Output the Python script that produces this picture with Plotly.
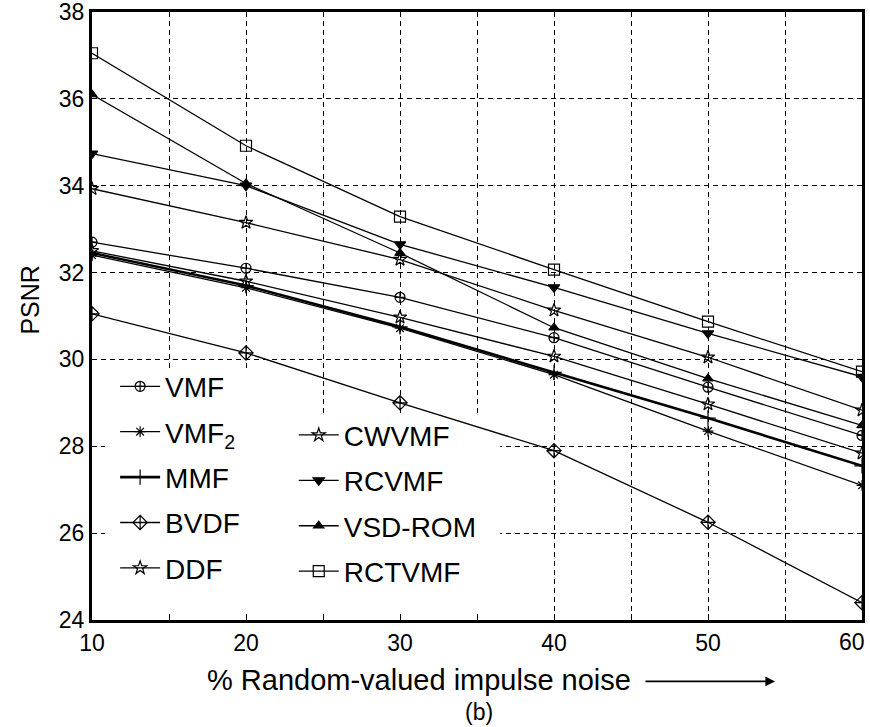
import plotly.graph_objects as go

noise = [10, 20, 30, 40, 50, 60]
VMF = [32.7, 32.1, 31.43, 30.5, 29.36, 28.25]
VMF2 = [32.4, 31.65, 30.72, 29.65, 28.35, 27.1]
MMF = [32.45, 31.7, 30.75, 29.7, 28.65, 27.55]
BVDF = [31.05, 30.15, 29.0, 27.9, 26.25, 24.4]
DDF = [32.5, 31.8, 30.97, 30.07, 28.97, 27.84]
CWVMF = [33.93, 33.15, 32.3, 31.13, 30.05, 28.83]
RCVMF = [34.74, 34.0, 32.65, 31.66, 30.6, 29.6]
VSDROM = [36.1, 34.05, 32.45, 30.73, 29.56, 28.48]
RCTVMF = [37.05, 34.92, 33.29, 32.07, 30.87, 29.72]

x_ticks = [10, 20, 30, 40, 50, 60]
# last label is drawn right-aligned at its tick so it stays inside the page
x_tick_labels = ["10", "20", "30", "40", "50", ""]
x_last_label = "60"
y_ticks = [24, 26, 28, 30, 32, 34, 36, 38]

FONT = "Liberation Sans, Arial, sans-serif"
DASH = "5px,4px"

series = [
    ("VMF", VMF, "circle-cross-open", 10, 1.3, "legend"),
    ("VMF<sub>2</sub>", VMF2, "asterisk-open", 9, 1.3, "legend"),
    ("MMF", MMF, "cross-thin-open", 11, 2.6, "legend"),
    ("BVDF", BVDF, "diamond-cross-open", 11, 1.3, "legend"),
    ("DDF", DDF, "star-open", 10, 1.3, "legend"),
    ("CWVMF", CWVMF, "star-open", 10, 1.3, "legend2"),
    ("RCVMF", RCVMF, "triangle-down", 10, 1.3, "legend2"),
    ("VSD-ROM", VSDROM, "triangle-up", 9, 1.3, "legend2"),
    ("RCTVMF", RCTVMF, "square-open", 11, 1.3, "legend2"),
]

fig = go.Figure()
for i, (name, vals, sym, size, lw, lg) in enumerate(series):
    fig.add_trace(go.Scatter(
        x=noise, y=vals, name=name, mode="lines+markers",
        line=dict(color="black", width=lw),
        marker=dict(symbol=sym, size=size, color="black",
                    line=dict(color="black", width=1.2)),
        legend=lg, legendgroup="g%d" % i,
    ))

legend_common = dict(
    bgcolor="rgba(0,0,0,0)", borderwidth=0,
    font=dict(family=FONT, size=28, color="black"),
    tracegroupgap=6, itemwidth=40,
    xanchor="left", yanchor="top",
)

fig.update_layout(
    width=870, height=727,
    margin=dict(l=92, r=8, t=12, b=107, autoexpand=False),
    paper_bgcolor="white", plot_bgcolor="white",
    showlegend=True,
    legend=dict(x=0.03, y=0.425, **legend_common),
    legend2=dict(x=0.262, y=0.345, **legend_common),
    xaxis=dict(
        range=[10, 60], tickvals=x_ticks, ticktext=x_tick_labels,
        showgrid=True, gridcolor="black", griddash=DASH, gridwidth=1,
        minor=dict(dtick=5, tick0=10, showgrid=True, gridcolor="black",
                   griddash=DASH, gridwidth=1, ticks="inside", ticklen=6,
                   tickcolor="black"),
        ticks="inside", ticklen=6, tickcolor="black",
        showline=True, linecolor="black", linewidth=3, mirror=True,
        zeroline=False, ticklabeloverflow="allow", automargin=False,
        tickfont=dict(family=FONT, size=23, color="black"),
    ),
    yaxis=dict(
        range=[24, 38], tickvals=y_ticks, ticktext=[str(v) for v in y_ticks],
        showgrid=True, gridcolor="black", griddash=DASH, gridwidth=1,
        ticks="", showline=True, linecolor="black", linewidth=3, mirror=True,
        zeroline=False, ticklabeloverflow="allow", automargin=False,
        tickfont=dict(family=FONT, size=23, color="black"),
    ),
    shapes=[
        dict(type="rect", xref="x", yref="y", layer="between",
             x0=10.84, x1=36.5, y0=24.18, y1=28.72,
             fillcolor="white", line=dict(width=0)),
        dict(type="rect", xref="x", yref="y", layer="between",
             x0=10.84, x1=20.26, y0=28.7, y1=29.8,
             fillcolor="white", line=dict(width=0)),
    ],
    annotations=[
        dict(text=x_last_label, xref="x", yref="paper", x=x_ticks[-1], y=0,
             xanchor="right", yanchor="top", xshift=5, yshift=-7,
             showarrow=False, font=dict(family=FONT, size=23, color="black")),
        dict(text="PSNR", xref="paper", yref="paper", textangle=-90,
             x=-0.08, y=0.526, xanchor="center", yanchor="middle",
             showarrow=False, font=dict(family=FONT, size=25, color="black")),
        dict(text="% Random-valued impulse noise", xref="paper", yref="paper",
             x=0.7026, y=-0.0987, xanchor="right", yanchor="middle",
             showarrow=False, font=dict(family=FONT, size=29, color="black")),
        dict(text="", xref="paper", yref="paper",
             x=0.887, y=-0.101, ax=-131, ay=0, axref="pixel", ayref="pixel",
             showarrow=True, arrowhead=2, arrowsize=1.2, arrowwidth=1.6,
             arrowcolor="black"),
        dict(text="(b)", xref="paper", yref="paper",
             x=0.503, y=-0.151, xanchor="center", yanchor="middle",
             showarrow=False, font=dict(family=FONT, size=23, color="black")),
    ],
)

fig.write_html("out.html")
